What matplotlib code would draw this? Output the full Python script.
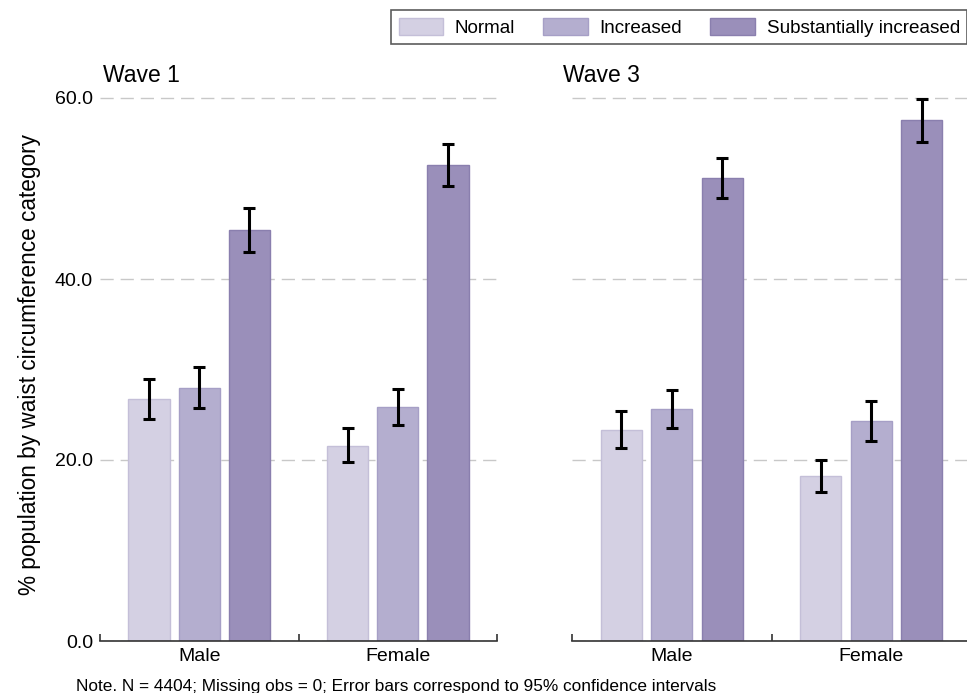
import matplotlib
matplotlib.use("Agg")
import matplotlib.pyplot as plt
from matplotlib.patches import Patch
from matplotlib.ticker import FixedLocator

plt.rcParams['font.family'] = ['Liberation Sans', 'DejaVu Sans']

waves = ["Wave 1", "Wave 3"]
sexes = ["Male", "Female"]
categories = ["Normal", "Increased", "Substantially increased"]
colors = ["#d4d0e3", "#b4aecf", "#9a8fba"]
edges = ["#c4bfd8", "#a69fc6", "#8a7fae"]

# values[wave][category] -> [Male, Female]
means = {
    "Wave 1": [[26.7, 21.6], [28.0, 25.9], [45.4, 52.6]],
    "Wave 3": [[23.3, 18.2], [25.6, 24.3], [51.2, 57.6]],
}
lower = {
    "Wave 1": [[24.5, 19.8], [25.7, 23.9], [43.0, 50.3]],
    "Wave 3": [[21.3, 16.5], [23.5, 22.1], [48.9, 55.1]],
}
upper = {
    "Wave 1": [[28.9, 23.5], [30.3, 27.8], [47.8, 54.9]],
    "Wave 3": [[25.4, 20.0], [27.7, 26.5], [53.4, 59.9]],
}
yticks = [0, 20, 40, 60]
ytick_labels = ["0.0", "20.0", "40.0", "60.0"]

fig = plt.figure(figsize=(9.67, 6.93), dpi=100)
bottom = 52 / 693
height = 61 * 9.05 / 693
ax1 = fig.add_axes([100 / 967, bottom, 397 / 967, height])
ax2 = fig.add_axes([572 / 967, bottom, 399 / 967, height])

offsets = [-0.253, 0.0, 0.253]
width = 0.207

for ax, wave in zip([ax1, ax2], waves):
    for k, cat in enumerate(categories):
        xs = [i + 0.5 + offsets[k] for i in range(len(sexes))]
        m = means[wave][k]
        lo = [m[i] - lower[wave][k][i] for i in range(len(sexes))]
        hi = [upper[wave][k][i] - m[i] for i in range(len(sexes))]
        ax.bar(xs, m, width=width, color=colors[k], edgecolor=edges[k],
               linewidth=1, zorder=2)
        ax.errorbar(xs, m, yerr=[lo, hi], fmt="none", ecolor="black",
                    elinewidth=2.2, capsize=4.5, capthick=2.2, zorder=3,
                    clip_on=False)
    ax.set_xlim(0, 2)
    ax.set_ylim(0, 61)
    ax.set_yticks(yticks)
    ax.grid(axis="y", linestyle=(0, (9.5, 5)), color="#c8c8c8", linewidth=1.0,
            zorder=0)
    ax.set_axisbelow(True)
    for s in ["top", "right", "left"]:
        ax.spines[s].set_visible(False)
    ax.spines["bottom"].set_color("#333333")
    ax.spines["bottom"].set_linewidth(1.2)
    ax.xaxis.set_major_locator(FixedLocator([0, 1, 2]))
    ax.xaxis.set_minor_locator(FixedLocator([0.5, 1.5]))
    ax.set_xticklabels([], minor=False)
    ax.set_xticklabels(sexes, minor=True)
    ax.tick_params(axis="x", which="major", direction="in", length=5,
                   width=1.2, color="#333333")
    ax.tick_params(axis="x", which="minor", length=0, pad=5, labelsize=14)
    ax.tick_params(axis="y", length=0, pad=5, labelsize=14)

ax1.set_yticklabels(ytick_labels)
ax2.set_yticklabels([])
ax1.set_ylabel("% population by waist circumference category", fontsize=16.3,
               labelpad=10)

fig.text(103 / 967, 1 - 75 / 693, waves[0], fontsize=16.5, ha="left",
         va="center")
fig.text(563 / 967, 1 - 75 / 693, waves[1], fontsize=16.5, ha="left",
         va="center")

handles = [Patch(facecolor=colors[k], edgecolor=edges[k], label=categories[k])
           for k in range(3)]
leg = fig.legend(handles=handles, ncol=3, loc="upper left",
                 bbox_to_anchor=(391 / 967, 1 - 10 / 693), fontsize=13.6,
                 frameon=True, fancybox=False, edgecolor="#333333",
                 handlelength=2.35, handleheight=1.05, columnspacing=1.5,
                 handletextpad=0.62, borderpad=0.4, borderaxespad=0)
leg.get_frame().set_linewidth(1.2)

fig.text(76 / 967, 1 - 686 / 693,
         "Note. N = 4404; Missing obs = 0; Error bars correspond to 95% confidence intervals",
         fontsize=12.4, ha="left", va="center")

fig.savefig("out.png", dpi=100)
